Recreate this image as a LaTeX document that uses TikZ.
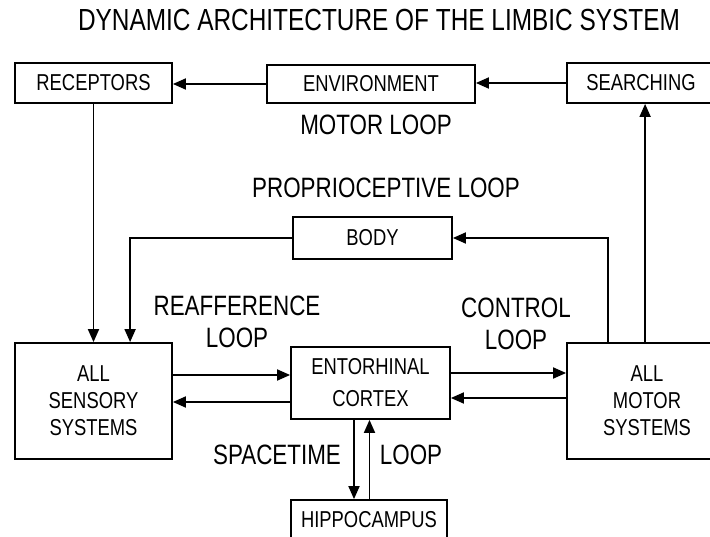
\documentclass[tikz,border=0pt]{standalone}
\usepackage{fontspec}
\setmainfont{Liberation Sans}[FakeStretch=0.8]
\usetikzlibrary{arrows.meta}
\tikzset{
  box/.style={draw, line width=1.8pt, inner sep=0pt, font=\fontsize{23}{27}\selectfont, align=center},
  lbl/.style={inner sep=0pt, font=\fontsize{28}{31.5}\selectfont, align=center},
  arr/.style={line width=1.8pt, -{Triangle[length=13pt,width=11pt]}},
  ln/.style={line width=1.8pt}
}
\begin{document}
\begin{tikzpicture}[x=1pt,y=-1pt]
\useasboundingbox (0,0) rectangle (710,537);
\clip (0,0) rectangle (710,537);
% title
\node[lbl, font=\fontsize{30.5}{34}\selectfont] (title) at (379,20) {DYNAMIC ARCHITECTURE OF THE LIMBIC SYSTEM};
% boxes
\node[box, minimum width=157pt, minimum height=40pt] (rec) at (93.5,83) {RECEPTORS};
\node[box, minimum width=208pt, minimum height=38pt] (env) at (371,84) {ENVIRONMENT};
\node[box, minimum width=160pt, minimum height=40pt] (sea) at (647,83) {};
\node (seatext) at (641,83) [font=\fontsize{23}{27}\selectfont, inner sep=0pt] {SEARCHING};
\node[box, minimum width=159pt, minimum height=42pt] (body) at (372.5,238) {BODY};
\node[box, minimum width=157pt, minimum height=116pt] (sen) at (93.5,401) {ALL\\SENSORY\\SYSTEMS};
\node[box, minimum width=159pt, minimum height=72pt, font=\fontsize{23}{32}\selectfont] (ent) at (370.5,383) {ENTORHINAL\\CORTEX};
\node[box, minimum width=160pt, minimum height=116pt] (mot) at (647,401) {ALL\\MOTOR\\SYSTEMS};
\node[box, minimum width=156pt, minimum height=40pt] (hip) at (369,520) {HIPPOCAMPUS};
% labels
\node[lbl] (motorloop) at (376,125) {MOTOR LOOP};
\node[lbl] (proloop) at (386,188) {PROPRIOCEPTIVE LOOP};
\node[lbl] (reaff) at (237,322) {REAFFERENCE\\LOOP};
\node[lbl, font=\fontsize{28}{32}\selectfont] (ctrl) at (516,324) {CONTROL\\LOOP};
\node[lbl] (space) at (277,455) {SPACETIME};
\node[lbl] (sloop) at (411,455) {LOOP};
% helper coordinates
\coordinate (m1) at ([xshift=42pt]mot.north west);
\coordinate (m2) at ([xshift=79pt]mot.north west);
\coordinate (s2) at ([xshift=116pt]sen.north west);
% connectors
\draw[arr] (env.west) -- (env.west -| rec.east);
\draw[arr] (sea.west) -- (sea.west -| env.east);
\draw[arr] (rec.south) -- (rec.south |- sen.north);
\draw[arr] (body.west) -| (s2);
\draw[arr] (m1) |- (body.east);
\draw[arr] (m2) -- (m2 |- sea.south);
\draw[arr] ([yshift=26pt]sen.east) -- ([yshift=26pt]sen.east -| ent.west);
\draw[arr] ([yshift=-19pt]ent.west) -- ([yshift=-19pt]ent.west -| sen.east);
\draw[arr] ([yshift=10pt]ent.east) -- ([yshift=10pt]ent.east -| mot.west);
\draw[arr] ([yshift=-15pt]ent.east -| mot.west) -- ([yshift=-15pt]ent.east);
\draw[arr] ([xshift=-16.5pt]ent.south) -- ([xshift=-16.5pt]ent.south |- hip.north);
\draw[arr] ([xshift=-1pt]ent.south |- hip.north) -- ([xshift=-1pt]ent.south);
\end{tikzpicture}
\end{document}
